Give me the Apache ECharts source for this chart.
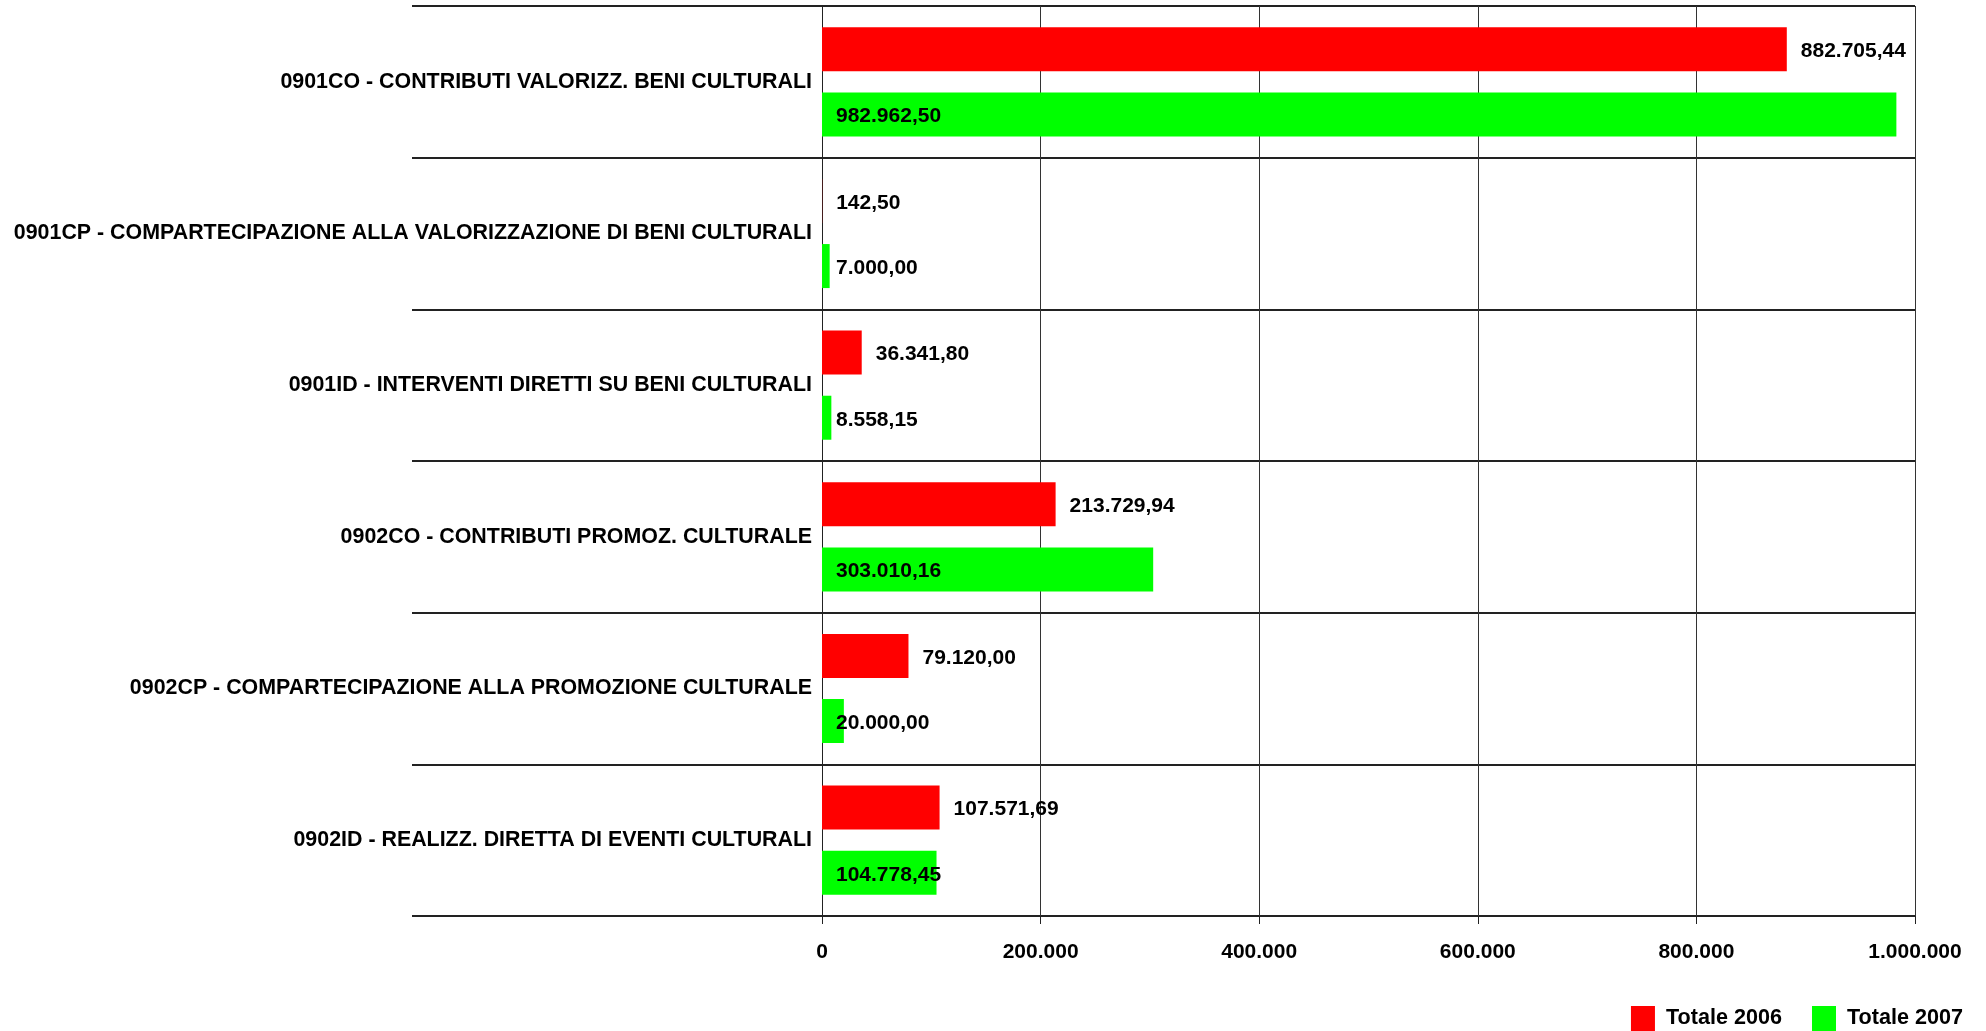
<!DOCTYPE html>
<html>
<head>
<meta charset="utf-8">
<script src="https://cdn.jsdelivr.net/npm/echarts@6/dist/echarts.min.js"></script>
<style>
html,body{margin:0;padding:0;background:#fff;}
#c{width:1986px;height:1031px;}
</style>
</head>
<body>
<div id="c"></div>
<script>
const categories = [
  "0901CO - CONTRIBUTI VALORIZZ. BENI CULTURALI",
  "0901CP - COMPARTECIPAZIONE ALLA VALORIZZAZIONE DI BENI CULTURALI",
  "0901ID - INTERVENTI DIRETTI SU BENI CULTURALI",
  "0902CO - CONTRIBUTI PROMOZ. CULTURALE",
  "0902CP - COMPARTECIPAZIONE ALLA PROMOZIONE CULTURALE",
  "0902ID - REALIZZ. DIRETTA DI EVENTI CULTURALI"
];
const seriesNames = ["Totale 2006", "Totale 2007"];
const totale2006 = [882705.44, 142.50, 36341.80, 213729.94, 79120.00, 107571.69];
const totale2007 = [982962.50, 7000.00, 8558.15, 303010.16, 20000.00, 104778.45];
const axisMin = 0, axisMax = 1000000, axisStep = 200000;

const FONT = "'Liberation Sans', Arial, Helvetica, sans-serif";

function fmtIt(v, dec) {
  const neg = v < 0; v = Math.abs(v);
  let s = v.toFixed(dec);
  let [ip, dp] = s.split('.');
  ip = ip.replace(/\B(?=(\d{3})+(?!\d))/g, '.');
  return (neg ? '-' : '') + ip + (dp ? ',' + dp : '');
}

const chart = echarts.init(document.getElementById('c'), null, {renderer: 'canvas'});
const labelStyle = {fontFamily: FONT, fontWeight: 'bold', fontSize: 21, color: '#000'};

chart.setOption({
  animation: false,
  backgroundColor: '#fff',
  grid: {left: 822, right: 71, top: 6, bottom: 115, containLabel: false},
  legend: {
    data: seriesNames,
    right: 18, top: 1001,
    itemWidth: 24, itemHeight: 25, itemGap: 30,
    icon: 'rect',
    formatter: n => ' ' + n,
    textStyle: {fontFamily: FONT, fontWeight: 'bold', fontSize: 21.6, color: '#000'}
  },
  xAxis: {
    type: 'value',
    min: axisMin, max: axisMax, interval: axisStep,
    axisLine: {show: true, lineStyle: {color: '#222', width: 1}},
    axisTick: {show: true, length: 8, lineStyle: {color: '#222'}},
    axisLabel: Object.assign({margin: 26, formatter: v => fmtIt(v, 0)}, labelStyle),
    splitLine: {show: true, lineStyle: {color: '#333', width: 1}}
  },
  yAxis: {
    type: 'category',
    data: categories,
    inverse: true,
    axisLine: {show: true, lineStyle: {color: '#222', width: 1}},
    axisTick: {show: true, length: 410, lineStyle: {color: '#222', width: 2}},
    axisLabel: Object.assign({margin: 10, padding: [8, 0, 0, 0]}, labelStyle, {fontSize: 21.4}),
    splitLine: {show: true, lineStyle: {color: '#222', width: 2}}
  },
  series: [
    {
      name: seriesNames[0], type: 'bar', data: totale2006,
      barWidth: 44, barGap: '48%',
      itemStyle: {color: '#FF0000'},
      label: Object.assign({show: true, position: 'right', distance: 14, offset: [0, 2],
        formatter: p => fmtIt(p.value, 2)}, labelStyle)
    },
    {
      name: seriesNames[1], type: 'bar', data: totale2007,
      barWidth: 44, barGap: '48%',
      itemStyle: {color: '#00FF00'},
      label: Object.assign({show: true, position: 'insideLeft', distance: 14, offset: [0, 2],
        formatter: p => fmtIt(p.value, 2)}, labelStyle)
    }
  ]
});
</script>
</body>
</html>
